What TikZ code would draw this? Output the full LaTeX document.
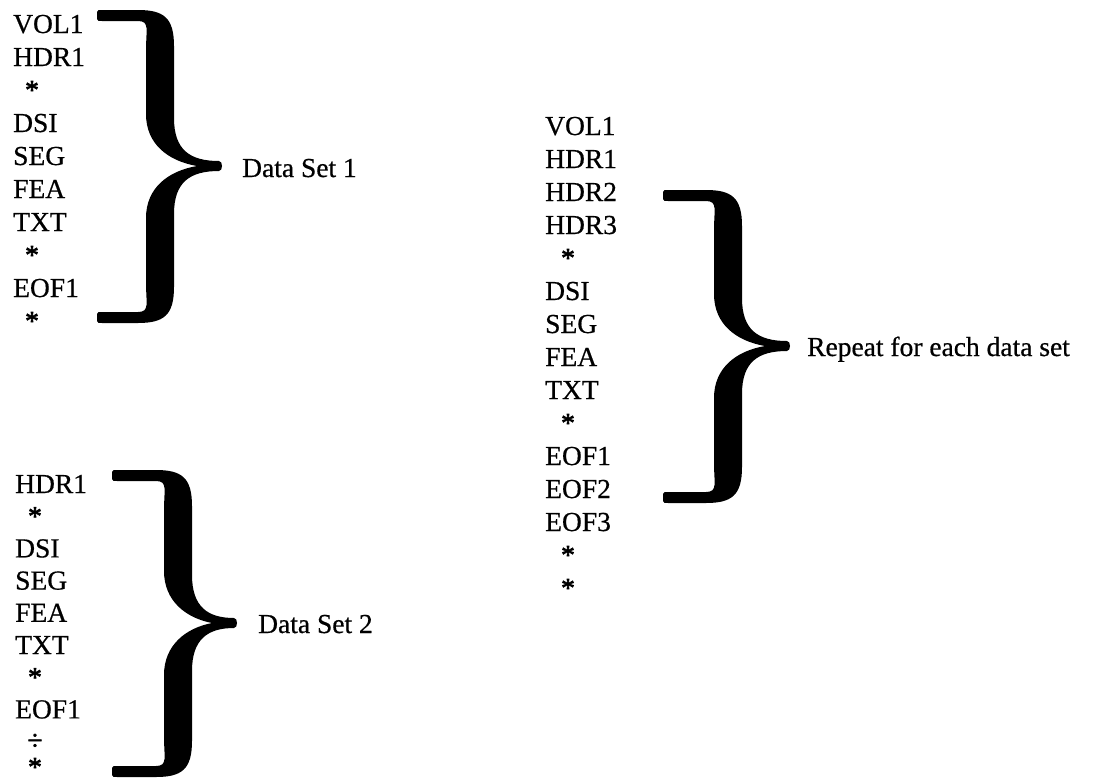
\documentclass[tikz,border=0pt]{standalone}
\usepackage{fontspec}
\setmainfont{Liberation Serif}
\newfontfamily\scanfont{Liberation Serif}[FakeBold=0.6]
\newfontfamily\scanstar{Liberation Serif}[FakeBold=2.5]
\tikzset{
  item/.style={anchor=base west, inner sep=0pt, font=\scanfont\fontsize{27.5}{33}\selectfont},
  staritem/.style={anchor=base, inner sep=0pt, font=\scanstar\fontsize{27.5}{33}\selectfont},
  bracelabel/.style={anchor=base west, inner sep=0pt, font=\scanfont\fontsize{27.5}{33}\selectfont},
  bracefill/.style={fill=black}
}
% #1=L (arm left x) #2=T (top y) #3=B (bottom y) #4=S (spine centre x) #5=X (tip x) #6=M (tip y)
\newcommand{\bigbrace}[6]{%
  \fill[bracefill]
    (#1,{#2+2}) .. controls (#1,#2) and ({#1+2},#2) .. ({#1+5},#2)
    -- ({#4-22},#2)
    .. controls ({#4+4},#2) and ({#4+14},{#2+8}) .. ({#4+14},{#2+36})
    -- ({#4+14},{#6-48})
    .. controls ({#4+14},{#6-16}) and ({#4+30},{#6-5}) .. ({#5-3},{#6-5})
    .. controls ({#5+1},{#6-5}) and ({#5+1},{#6+5}) .. ({#5-3},{#6+5})
    .. controls ({#4+30},{#6+5}) and ({#4+14},{#6+16}) .. ({#4+14},{#6+48})
    -- ({#4+14},{#3-36})
    .. controls ({#4+14},{#3-8}) and ({#4+4},#3) .. ({#4-22},#3)
    -- ({#1+5},#3) .. controls ({#1+2},#3) and (#1,#3) .. (#1,{#3-2})
    -- (#1,{#3-9}) .. controls (#1,{#3-11}) and ({#1+2},{#3-11}) .. ({#1+5},{#3-11})
    -- ({#4-22},{#3-11})
    .. controls ({#4-10},{#3-11}) and ({#4-14},{#3-20}) .. ({#4-14},{#3-40})
    -- ({#4-14},{#6+52})
    .. controls ({#4-14},{#6+22}) and ({#4+8},{#6+5}) .. ({#5-25},#6)
    .. controls ({#4+8},{#6-5}) and ({#4-14},{#6-22}) .. ({#4-14},{#6-52})
    -- ({#4-14},{#2+40})
    .. controls ({#4-14},{#2+20}) and ({#4-10},{#2+11}) .. ({#4-22},{#2+11})
    -- ({#1+5},{#2+11}) .. controls ({#1+2},{#2+11}) and (#1,{#2+11}) .. (#1,{#2+9})
    -- cycle;
}
\begin{document}
\begin{tikzpicture}[x=1pt,y=-1pt]
\useasboundingbox (0,0) rectangle (1098,780);

% ---- list 1 ----
\node[item] (a1) at (13,33) {VOL1};
\node[item] (a2) at (13,66) {HDR1};
\node[staritem] (a3) at (32,99) {*};
\node[item] (a4) at (13,132) {DSI};
\node[item] (a5) at (13,165) {SEG};
\node[item] (a6) at (13,198) {FEA};
\node[item] (a7) at (13,231) {TXT};
\node[staritem] (a8) at (32,264) {*};
\node[item] (a9) at (13,297) {EOF1};
\node[staritem] (a10) at (32,330) {*};
\bigbrace{97}{10}{323}{160}{222}{166}
\node[bracelabel] (l1) at (242,177) {Data Set 1};

% ---- list 2 ----
\node[item] (b1) at (15,493) {HDR1};
\node[staritem] (b2) at (35,525.2) {*};
\node[item] (b3) at (15,557.4) {DSI};
\node[item] (b4) at (15,589.6) {SEG};
\node[item] (b5) at (15,621.8) {FEA};
\node[item] (b6) at (15,654) {TXT};
\node[staritem] (b7) at (35,686.2) {*};
\node[item] (b8) at (15,718.4) {EOF1};
\node[staritem] (b9) at (35,749.5) {÷};
\node[staritem] (b10) at (35,776) {*};
\bigbrace{112}{470}{777}{178}{237}{623}
\node[bracelabel] (l2) at (258,633) {Data Set 2};

% ---- list 3 ----
\node[item] (c1) at (545,135) {VOL1};
\node[item] (c2) at (545,168) {HDR1};
\node[item] (c3) at (545,201) {HDR2};
\node[item] (c4) at (545,234) {HDR3};
\node[staritem] (c5) at (568,267) {*};
\node[item] (c6) at (545,300) {DSI};
\node[item] (c7) at (545,333) {SEG};
\node[item] (c8) at (545,366) {FEA};
\node[item] (c9) at (545,399) {TXT};
\node[staritem] (c10) at (568,432) {*};
\node[item] (c11) at (545,465) {EOF1};
\node[item] (c12) at (545,498) {EOF2};
\node[item] (c13) at (545,531) {EOF3};
\node[staritem] (c14) at (568,564) {*};
\node[staritem] (c15) at (568,597) {*};
\bigbrace{663}{190}{503}{728}{790}{346}
\node[bracelabel] (l3) at (807,356) {Repeat for each data set};
\end{tikzpicture}
\end{document}
